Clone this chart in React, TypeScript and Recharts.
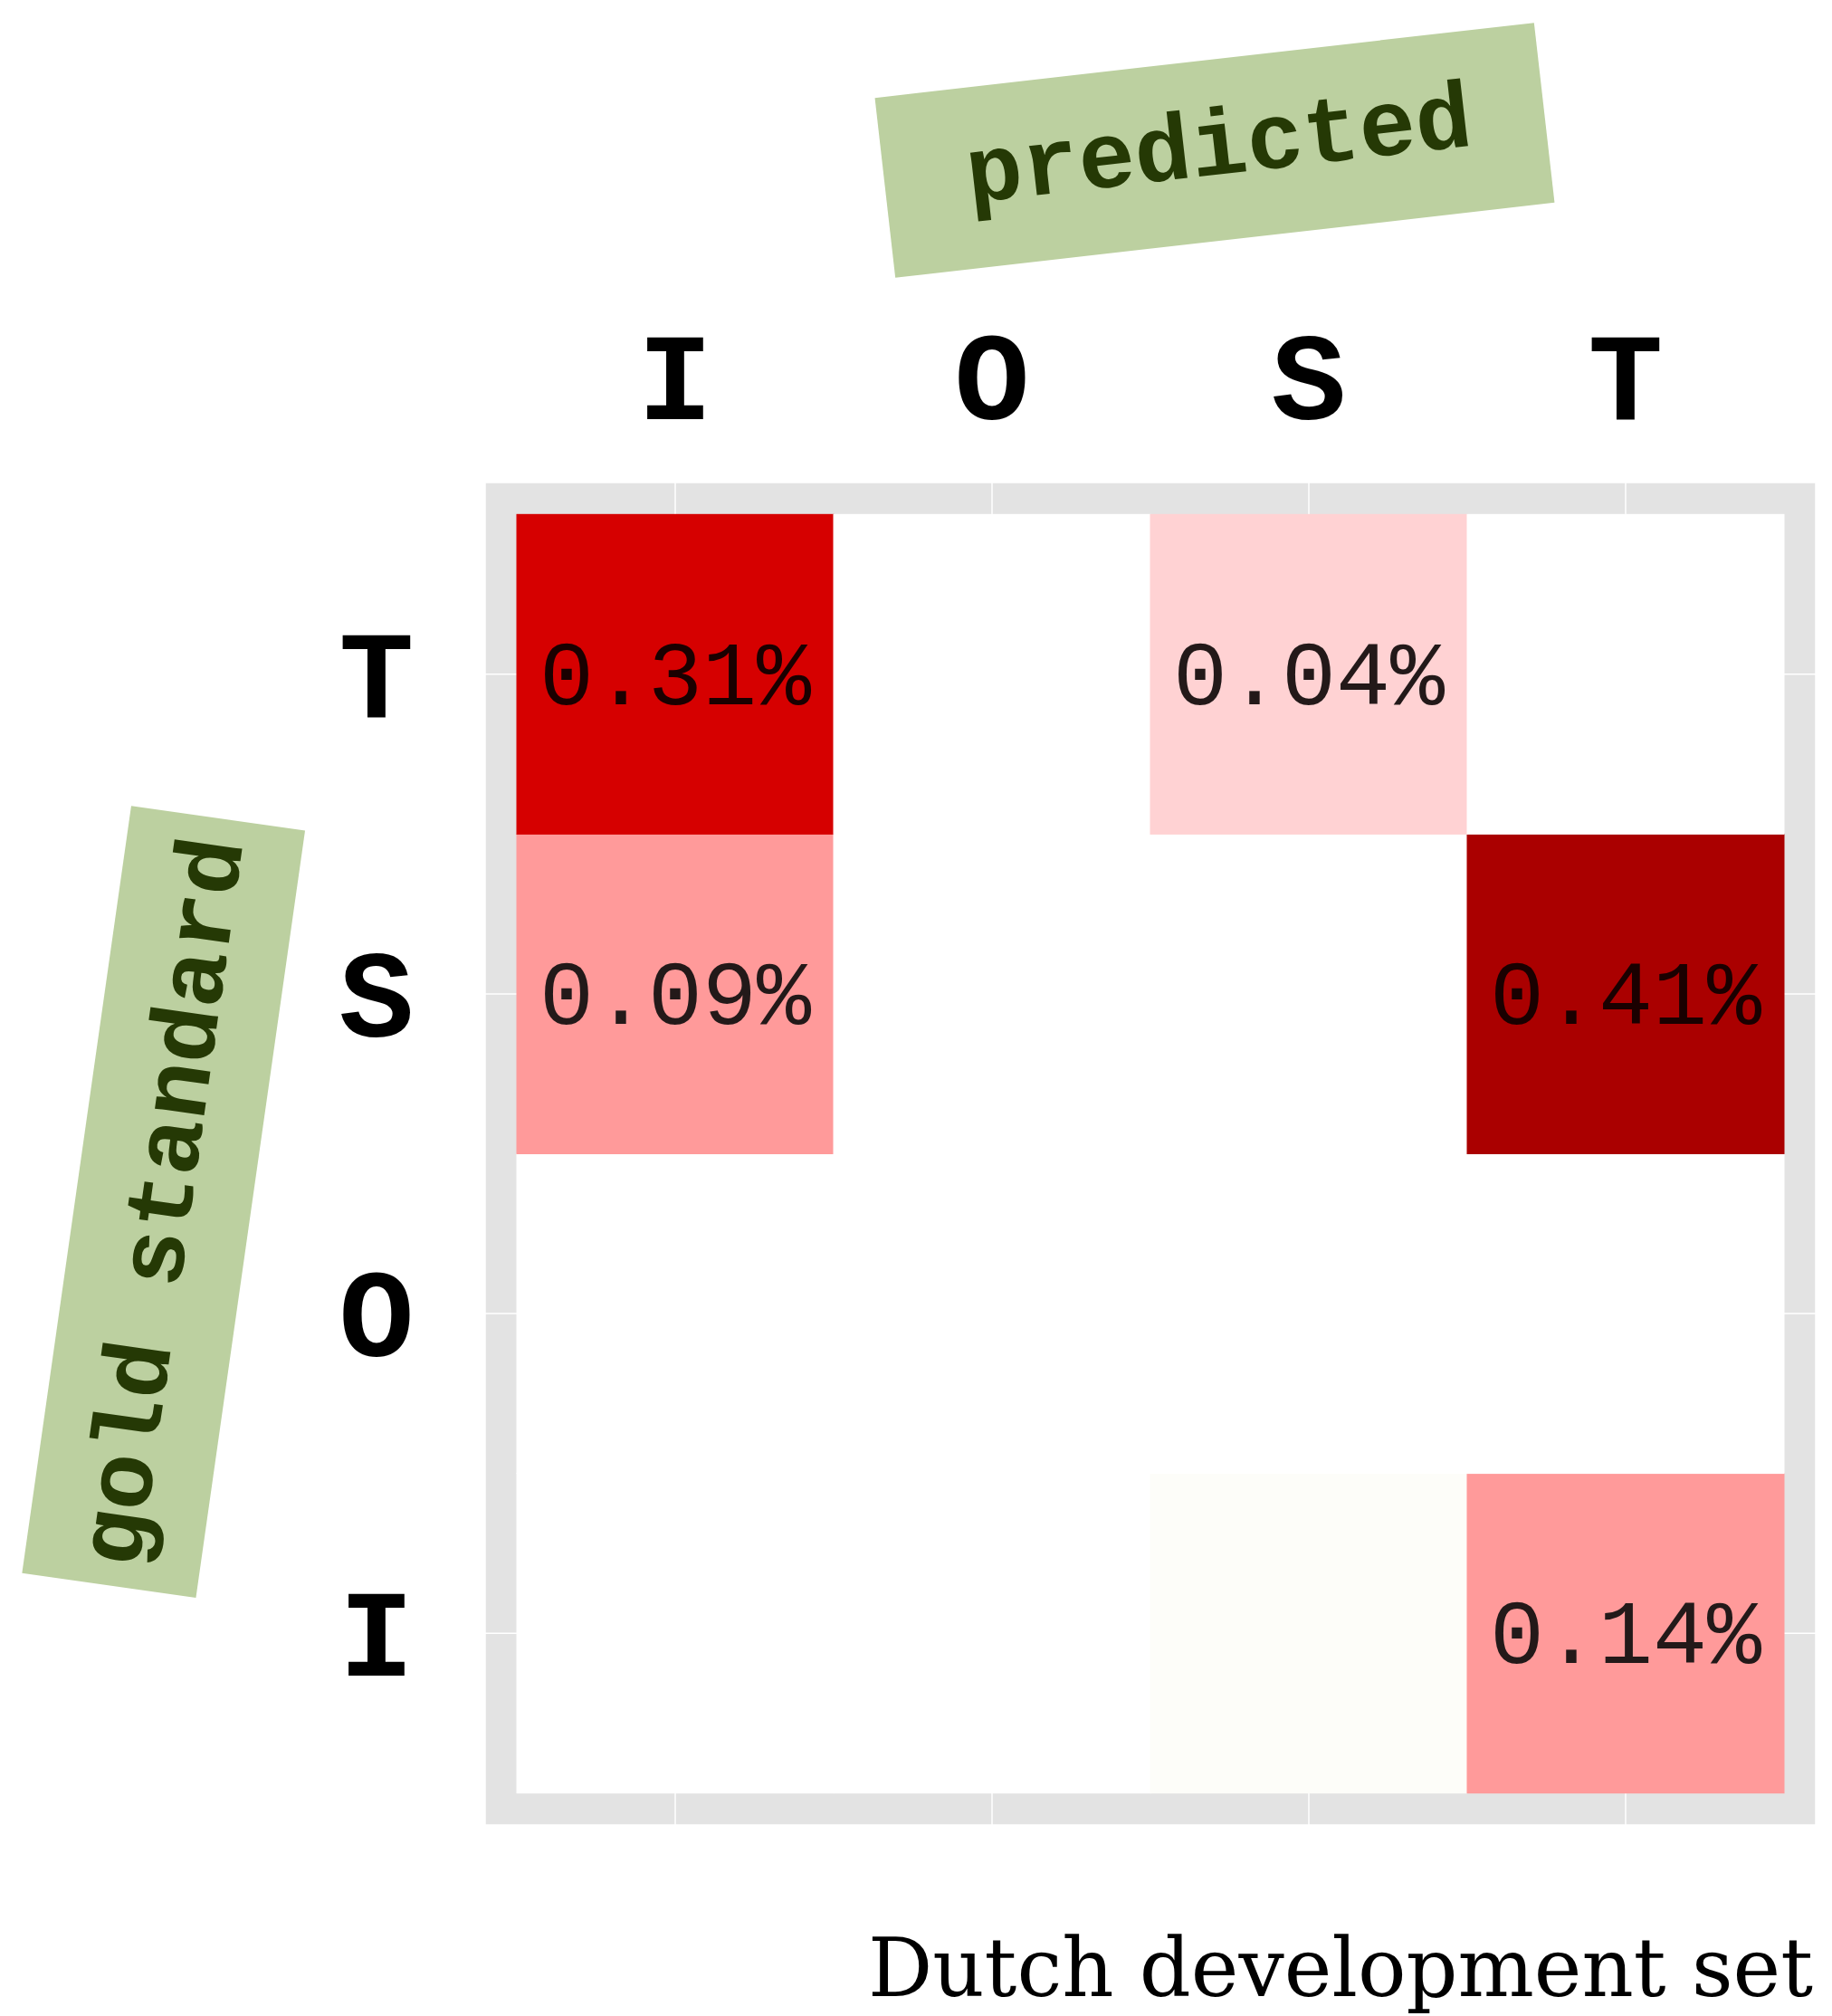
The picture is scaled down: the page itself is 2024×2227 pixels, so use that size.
import React from 'react';
import { ScatterChart, Scatter, XAxis, YAxis, CartesianGrid, Customized } from 'recharts';

// predicted categories (columns, x = 1..4) and gold categories (rows, y = 1..4 from bottom)
const predictedLabels = ['I', 'O', 'S', 'T'];
const goldLabels = ['I', 'O', 'S', 'T'];

// confusion values in % for each gold row, across predicted I, O, S, T
const goldT = [0.31, 0, 0.04, 0];
const goldS = [0.09, 0, 0, 0.41];
const goldO = [0, 0, 0, 0];
const goldI = [0, 0, 0.003, 0.14];

const titleText = 'Dutch development set';
const predictedTitle = 'predicted';
const goldTitle = 'gold standard';

const rowsByGold: Record<string, number[]> = { I: goldI, O: goldO, S: goldS, T: goldT };

const cells = goldLabels.flatMap((g, yi) =>
  predictedLabels.map((p, xi) => ({ x: xi + 1, y: yi + 1, gold: g, pred: p, v: rowsByGold[g][xi] }))
);

const CHART_W = 2016;
const CHART_H = 2219;
const MARGIN = { top: 425, left: 428, right: 18, bottom: 211 };
const X_AXIS_H = 100;
const Y_AXIS_W = 100;
const PLOT_W = CHART_W - MARGIN.left - MARGIN.right - Y_AXIS_W;
const PLOT_H = CHART_H - MARGIN.top - MARGIN.bottom - X_AXIS_H;
const SPAN = 4.2;
const CELL_W = PLOT_W / SPAN;
const CELL_H = PLOT_H / SPAN;
const PLOT_TOP = MARGIN.top + X_AXIS_H;
const PLOT_LEFT = MARGIN.left + Y_AXIS_W;

const MONO = "'Liberation Mono', 'Courier New', monospace";

function tileColor(v: number) {
  if (v >= 0.35) return '#AA0000';
  if (v >= 0.2) return '#D60000';
  if (v >= 0.07) return '#FF9A9A';
  if (v >= 0.02) return '#FFD2D3';
  if (v > 0) return '#FDFDF9';
  return '#FFFFFF';
}

function textColor(v: number) {
  return v >= 0.2 ? '#1A0000' : '#231919';
}

const Tile = (props: any) => {
  const { cx, cy, payload } = props;
  const v = payload.v as number;
  return (
    <g>
      <rect
        x={cx - CELL_W / 2 - 0.5}
        y={cy - CELL_H / 2 - 0.5}
        width={CELL_W + 1}
        height={CELL_H + 1}
        fill={tileColor(v)}
      />
      {v >= 0.01 && (
        <text x={cx} y={cy + 33} textAnchor="middle" fontFamily={MONO} fontSize={100} fill={textColor(v)}>
          {v.toFixed(2) + '%'}
        </text>
      )}
    </g>
  );
};

const XTick = (props: any) => {
  const { x, payload } = props;
  return (
    <text x={x} y={PLOT_TOP - 70} textAnchor="middle" fontFamily={MONO} fontWeight="bold" fontSize={138} fill="#000">
      {predictedLabels[payload.value - 1]}
    </text>
  );
};

const YTick = (props: any) => {
  const { y, payload } = props;
  return (
    <text x={PLOT_LEFT - 120} y={y + 47} textAnchor="middle" fontFamily={MONO} fontWeight="bold" fontSize={138} fill="#000">
      {goldLabels[payload.value - 1]}
    </text>
  );
};

const Annotations = () => (
  <g>
    <g transform="translate(1334,158) rotate(-6.5)">
      <rect x={-366.5} y={-100} width={733} height={200} fill="#BCD0A0" />
      <text x={5} y={27} textAnchor="middle" fontFamily={MONO} fontWeight="bold" fontSize={104} fill="#253905">
        {predictedTitle}
      </text>
    </g>
    <g transform="translate(172.7,1319.6) rotate(-81.9)">
      <rect x={-428} y={-97} width={856} height={194} fill="#BCD0A0" />
      <text x={0} y={31} textAnchor="middle" fontFamily={MONO} fontWeight="bold" fontSize={104} fill="#253905">
        {goldTitle}
      </text>
    </g>
    <text x={1995} y={2197} textAnchor="end" fontFamily="'DejaVu Serif', serif" fontSize={89} fill="#000">
      {titleText}
    </text>
  </g>
);

export default function App() {
  return (
    <div>
      <style>{'html,body{overflow:hidden}'}</style>
      <ScatterChart width={CHART_W} height={CHART_H} margin={MARGIN}>
        <CartesianGrid fill="#E3E3E3" stroke="#FFFFFF" strokeWidth={1.5} fillOpacity={1} />
        <XAxis
          type="number"
          dataKey="x"
          orientation="top"
          domain={[0.4, 4.6]}
          ticks={[1, 2, 3, 4]}
          interval={0}
          height={X_AXIS_H}
          axisLine={false}
          tickLine={false}
          tick={(p: any) => <XTick {...p} />}
          allowDataOverflow
        />
        <YAxis
          type="number"
          dataKey="y"
          domain={[0.4, 4.6]}
          ticks={[1, 2, 3, 4]}
          interval={0}
          width={Y_AXIS_W}
          axisLine={false}
          tickLine={false}
          tick={(p: any) => <YTick {...p} />}
          allowDataOverflow
        />
        <Scatter data={cells} shape={(p: any) => <Tile {...p} />} isAnimationActive={false} />
        <Customized component={Annotations} />
      </ScatterChart>
    </div>
  );
}
